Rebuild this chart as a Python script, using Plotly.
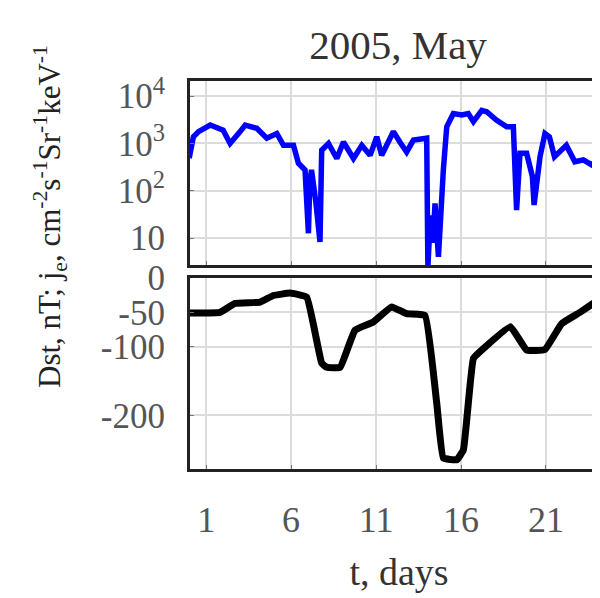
import plotly.graph_objects as go

# --- data ---
flux_days = [0.0, 0.25, 0.55, 1.24, 2.0, 2.41, 3.0, 3.3, 3.98, 4.57, 5.16, 5.55, 6.14, 6.43,
             6.82, 6.95, 7.02, 7.1, 7.2, 7.45, 7.6, 7.7, 7.8, 8.2, 8.69, 9.08, 9.67, 10.16,
             10.65, 11.04, 11.33, 12.02, 12.4, 12.8, 13.2, 13.98, 14.05, 14.2, 14.35, 14.47,
             14.6, 14.67, 14.96, 15.16, 15.55, 16.04, 16.43, 16.73, 17.22, 17.51, 18.1, 18.69,
             19.08, 19.2, 19.27, 19.47, 19.86, 20.2, 20.3, 20.65, 20.94, 21.2, 21.5, 22.2,
             22.7, 23.2, 23.7, 24.2, 24.6]
flux_vals = [490, 1380, 1780, 2450, 1900, 1000, 1780, 2450, 2090, 1290, 1620, 910, 910, 380,
             275, 40, 12.6, 150, 275, 60, 20, 8.3, 720, 1000, 480, 1070, 480, 910,
             560, 1380, 560, 1780, 1070, 660, 1175, 1290, 2.5, 30, 8, 54,
             10, 4, 275, 2240, 4270, 3980, 4270, 2880, 5010, 4680, 3090, 2240,
             2240, 300, 39, 620, 620, 200, 50, 525, 1620, 1380, 525, 910,
             410, 450, 350, 540, 500]

dst_days = [0.0, 0.16, 1.82, 2.7, 4.18, 4.96, 5.94, 6.92, 7.8, 8.1, 8.88, 9.76, 10.84,
            11.92, 12.8, 13.88, 14.57, 14.96, 15.75, 16.14, 16.73, 17.3, 18.9, 19.86,
            20.94, 21.92, 23.0, 24.2, 24.7]
dst_vals = [-51, -51, -50, -37, -35, -25.5, -22, -28, -124, -130, -130, -76, -64,
            -42, -52, -54.5, -182, -262, -264.6, -250, -117, -103, -71, -105,
            -104, -66.5, -50, -30, -22]

x_tickvals = [1, 6, 11, 16, 21]
flux_tickvals = [10, 100, 1000, 10000]
flux_ticktext = ["10", "10<sup>2</sup>", "10<sup>3</sup>", "10<sup>4</sup>"]
dst_tickvals = [0, -50, -100, -200]
dst_ticktext = ["0", "-50", "-100", "-200"]

FONT = "Liberation Serif"
AX = "#222222"
GRID = "#dcdcdc"

# page body adds an 8px offset; layout below is in figure coordinates
L, T, B = 182, 73, 137
PW = 600 - L           # plot width  (extends past the visible window like the reference)
PH = 598 - T - B       # plot height

fig = go.Figure()
fig.add_trace(go.Scatter(x=flux_days, y=flux_vals, mode="lines",
                         line=dict(color="#0000ff", width=5.5), xaxis="x", yaxis="y",
                         showlegend=False))
fig.add_trace(go.Scatter(x=dst_days, y=dst_vals, mode="lines",
                         line=dict(color="#000000", width=7, shape="spline", smoothing=0.3),
                         xaxis="x2", yaxis="y2", showlegend=False))

xcommon = dict(range=[0.05, 24.65], tickvals=x_tickvals, showgrid=True, gridcolor=GRID,
               gridwidth=2, showline=True, linecolor=AX, linewidth=3, mirror=True,
               ticks="inside", ticklen=4, tickcolor="#777", zeroline=False,
               automargin=False)
ycommon = dict(showgrid=True, gridcolor=GRID, gridwidth=2, showline=True, linecolor=AX,
               linewidth=3, mirror=False, ticks="inside", ticklen=4, tickcolor="#777",
               zeroline=False, tickfont=dict(family=FONT, size=35, color="#555"),
               ticklabelstandoff=15, automargin=False)

fig.update_layout(
    width=600, height=598,
    margin=dict(l=L, r=0, t=T, b=B, autoexpand=False),
    paper_bgcolor="white", plot_bgcolor="white",
    font=dict(family=FONT, color="#333"),
    title=dict(text="2005, May", x=390 / 600, xanchor="center", y=1 - 37 / 598,
               yanchor="middle", automargin=False,
               font=dict(family=FONT, size=41, color="#333")),
    xaxis=dict(**xcommon, domain=[0, 1], anchor="y", showticklabels=False),
    yaxis=dict(**ycommon, type="log", range=[0.43, 4.32],
               domain=[(PH - (265 - 81)) / PH, 1],
               tickvals=flux_tickvals, ticktext=flux_ticktext, anchor="x"),
    xaxis2=dict(**xcommon, domain=[0, 1], anchor="y2", showticklabels=True,
                tickfont=dict(family=FONT, size=36, color="#555"), ticklabelstandoff=17,
                title=dict(text="t, days", font=dict(family=FONT, size=38, color="#333"),
                           standoff=20)),
    yaxis2=dict(**ycommon, range=[-278, 0], domain=[0, (469 - 278) / PH],
                tickvals=dst_tickvals, ticktext=dst_ticktext, anchor="x2"),
    annotations=[dict(
        text="Dst, nT; j<sub>e</sub>, cm<sup>-2</sup>s<sup>-1</sup>Sr<sup>-1</sup>keV<sup>-1</sup>",
        xref="paper", yref="paper", x=(42 - L) / PW, y=(469 - 217) / PH,
        xanchor="center", yanchor="middle", textangle=-90, showarrow=False,
        font=dict(family=FONT, size=31, color="#222"))],
)

fig.write_html("out.html")
